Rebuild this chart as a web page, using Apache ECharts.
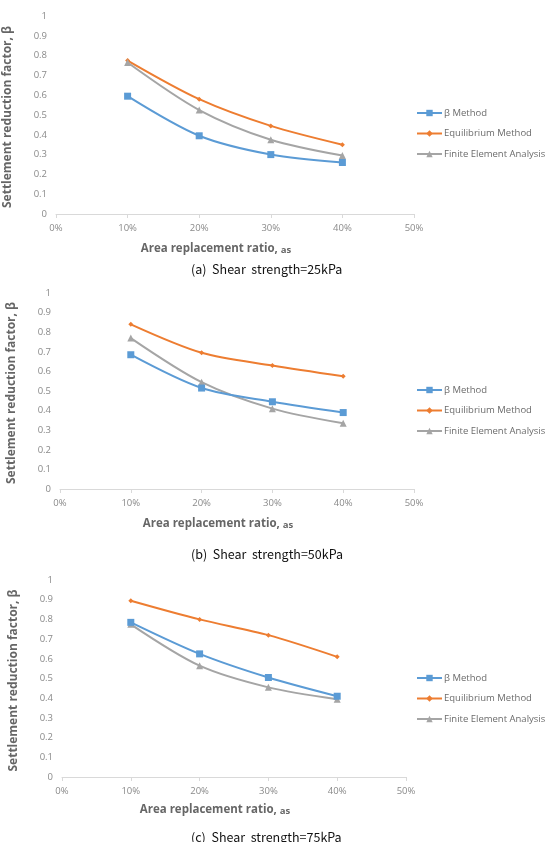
<!DOCTYPE html>
<html>
<head>
<meta charset="utf-8">
<script src="https://cdn.jsdelivr.net/npm/echarts@6/dist/echarts.min.js"></script>
<style>
html,body{margin:0;padding:0;background:#fff;}
#c{width:556px;height:842px;}
</style>
</head>
<body>
<div id="c"></div>
<script>
const seriesNames = ['β Method', 'Equilibrium Method', 'Finite Element Analysis'];
const xValues = [0.1, 0.2, 0.3, 0.4];
const xTicks = ['0%', '10%', '20%', '30%', '40%', '50%'];
const yTicks = ['0', '0.1', '0.2', '0.3', '0.4', '0.5', '0.6', '0.7', '0.8', '0.9', '1'];
const captions = ['(a)  Shear  strength=25kPa', '(b)  Shear  strength=50kPa', '(c)  Shear  strength=75kPa'];

// (a) 25kPa
const betaA = [0.595, 0.395, 0.30, 0.26];
const equilA = [0.775, 0.58, 0.445, 0.35];
const feaA = [0.765, 0.525, 0.375, 0.295];
// (b) 50kPa
const betaB = [0.685, 0.515, 0.445, 0.39];
const equilB = [0.84, 0.695, 0.63, 0.575];
const feaB = [0.77, 0.545, 0.41, 0.335];
// (c) 75kPa
const betaC = [0.785, 0.625, 0.505, 0.41];
const equilC = [0.895, 0.80, 0.72, 0.61];
const feaC = [0.775, 0.565, 0.455, 0.395];

const panels = [
  {data: [betaA, equilA, feaA], grid: {left: 56, top: 16, width: 358, height: 198}, legendTop: 103, xNameGap: 29, capTop: 263},
  {data: [betaB, equilB, feaB], grid: {left: 60, top: 293, width: 354, height: 196}, legendTop: 380, xNameGap: 29, capTop: 548},
  {data: [betaC, equilC, feaC], grid: {left: 62, top: 580, width: 344, height: 197}, legendTop: 668, xNameGap: 27, capTop: 831}
];

const colors = ['#5b9bd5', '#ed7d31', '#a5a5a5'];
const symbols = ['rect', 'diamond', 'triangle'];
const symbolSizes = [7, 5, 7];
const FONT = 'Open Sans';

const grids = [], xAxes = [], yAxes = [], series = [], legends = [], graphics = [];
panels.forEach((p, i) => {
  grids.push(Object.assign({containLabel: false, outerBoundsMode: 'none'}, p.grid));
  xAxes.push({
    type: 'value', gridIndex: i, min: 0, max: 0.5, interval: 0.1,
    axisLine: {lineStyle: {color: '#d9d9d9', width: 1}},
    axisTick: {show: true, length: 4, lineStyle: {color: '#d9d9d9'}},
    splitLine: {show: false},
    axisLabel: {color: '#8a8a8a', fontSize: 9.5, fontFamily: FONT, margin: 9,
      formatter: v => xTicks[Math.round(v * 10)]},
    name: '{m|Area replacement ratio, }{s|as}',
    nameLocation: 'middle', nameGap: p.xNameGap,
    nameTextStyle: {padding: [0, 38, 0, 0],
      rich: {m: {fontSize: 11.5, fontWeight: 'bold', color: '#666', fontFamily: FONT},
             s: {fontSize: 9.5, fontWeight: 'bold', color: '#666', fontFamily: FONT, padding: [2, 0, 0, 0]}}}
  });
  yAxes.push({
    type: 'value', gridIndex: i, min: 0, max: 1, interval: 0.1,
    axisLine: {show: false}, axisTick: {show: false}, splitLine: {show: false},
    axisLabel: {color: '#8a8a8a', fontSize: 9.5, fontFamily: FONT, margin: 9,
      formatter: v => yTicks[Math.round(v * 10)]},
    name: 'Settlement reduction factor, β', nameLocation: 'middle', nameRotate: 90, nameGap: 42,
    nameTextStyle: {fontSize: 12, fontWeight: 'bold', color: '#666', fontFamily: FONT, padding: [0, 0, 0, -4]}
  });
  p.data.forEach((vals, k) => {
    series.push({
      name: seriesNames[k], type: 'line', xAxisIndex: i, yAxisIndex: i,
      smooth: 0.3, data: xValues.map((x, j) => [x, vals[j]]),
      symbol: symbols[k], symbolSize: symbolSizes[k], showSymbol: true,
      lineStyle: {color: colors[k], width: 2},
      itemStyle: {color: colors[k]},
      z: k === 0 ? 4 : 3
    });
  });
  legends.push({
    orient: 'vertical', left: 411, top: p.legendTop, itemGap: 10.5, itemWidth: 25, itemHeight: 8,
    data: seriesNames, selectedMode: false,
    textStyle: {color: '#6b6b6b', fontSize: 9.5, fontFamily: FONT, padding: [0, 0, 0, -3]}
  });
  graphics.push({
    type: 'text', left: 191, top: p.capTop,
    style: {text: captions[i], fill: '#111', fontSize: 12.5, fontFamily: 'Noto Sans CJK KR'}
  });
});

const chart = echarts.init(document.getElementById('c'), null, {renderer: 'canvas'});
chart.setOption({
  animation: false,
  backgroundColor: '#fff',
  grid: grids, xAxis: xAxes, yAxis: yAxes, series: series, legend: legends,
  graphic: graphics
});
</script>
</body>
</html>
